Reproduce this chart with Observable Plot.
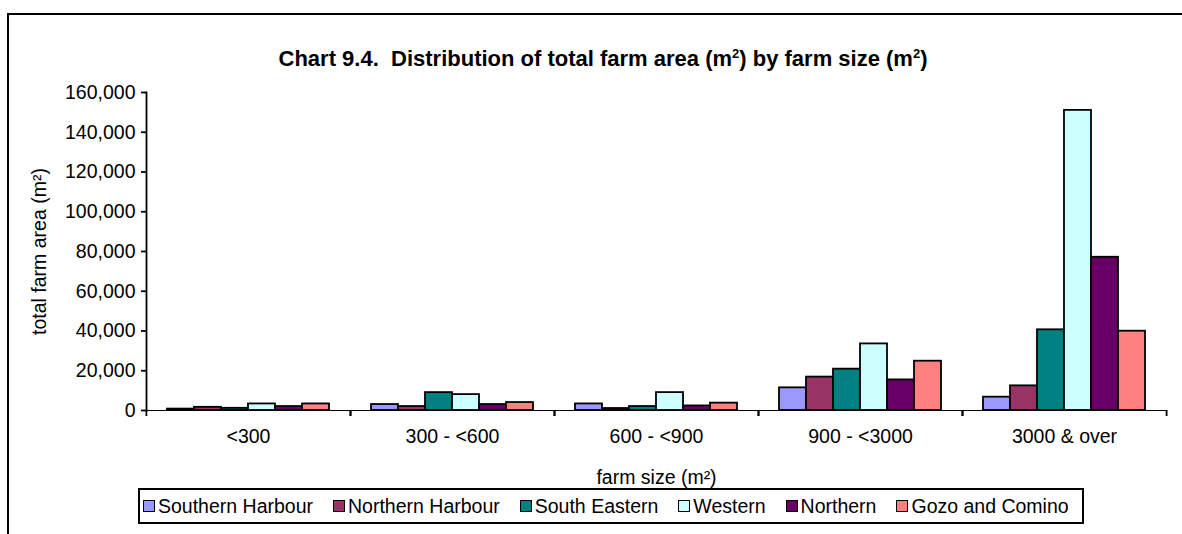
<!DOCTYPE html>
<html><head><meta charset="utf-8">
<script src="https://cdn.jsdelivr.net/npm/d3@7"></script>
<script src="https://cdn.jsdelivr.net/npm/@observablehq/plot@0.6"></script>
<style>
body{margin:0;background:#fff;font-family:"Liberation Sans",Arial,sans-serif;color:#000;}
#page{position:relative;width:1182px;height:534px;overflow:hidden;background:#fff;}
#chart{position:absolute;left:0;top:80px;}
#border{position:absolute;left:7px;top:13px;width:1300px;height:700px;border:2px solid #000;box-sizing:border-box;}
#title{position:absolute;top:46px;left:0;width:1206px;text-align:center;font-weight:bold;font-size:22px;white-space:nowrap;}
#title sup{font-size:13px;line-height:0;}
#legend{position:absolute;left:138px;top:488px;width:946px;height:36px;border:2px solid #000;box-sizing:border-box;background:#fff;display:flex;align-items:center;padding-left:3px;font-size:19.5px;white-space:nowrap;}
.item{display:flex;align-items:center;margin-right:20px;}
.sw{width:10px;height:10px;border:1.5px solid #000;margin-right:3px;}
</style></head>
<body>
<div id="page">
  <div id="chart"></div>
  <div id="title">Chart 9.4.&nbsp; Distribution of total farm area (m<sup>2</sup>) by farm size (m<sup>2</sup>)</div>
  <div id="legend"></div>
  <div id="border"></div>
</div>
<script>
const categories = ["<300", "300 - <600", "600 - <900", "900 - <3000", "3000 & over"];
const series = ["Southern Harbour", "Northern Harbour", "South Eastern", "Western", "Northern", "Gozo and Comino"];
const colors = ["#9999FF", "#993366", "#008080", "#CCFFFF", "#660066", "#FF8080"];
const southernHarbour = [700, 3000, 3300, 11400, 6700];
const northernHarbour = [1600, 2000, 1000, 16800, 12400];
const southEastern = [1100, 9000, 2000, 20800, 40600];
const western = [3300, 8000, 9000, 33500, 151000];
const northern = [2000, 3000, 2300, 15400, 77100];
const gozoAndComino = [3300, 4000, 3700, 24800, 39900];
const yTicks = [0, 20000, 40000, 60000, 80000, 100000, 120000, 140000, 160000];

const seriesValues = [southernHarbour, northernHarbour, southEastern, western, northern, gozoAndComino];
const data = [];
categories.forEach((c, i) => series.forEach((s, j) => data.push({category: c, series: s, value: seriesValues[j][i]})));

const W = 1182, H = 420, mL = 145, mR = 16, mT = 12, mB = 90;
const band = (W - mL - mR) / categories.length;

const chart = Plot.plot({
  width: W, height: H,
  marginLeft: mL, marginRight: mR, marginTop: mT, marginBottom: mB,
  style: {fontFamily: "'Liberation Sans', Arial, sans-serif", fontSize: "19.5px", color: "#000", background: "transparent", overflow: "visible"},
  fx: {domain: categories, padding: 0},
  x: {domain: series, paddingInner: 0, paddingOuter: 0.71, axis: null},
  y: {domain: [0, 160000]},
  color: {domain: series, range: colors},
  marks: [
    Plot.barY(data, {fx: "category", x: "series", y: "value", fill: "series", stroke: "#000", strokeWidth: 1.8}),
    Plot.ruleY([0], {stroke: "#000", strokeWidth: 1}),
    Plot.frame({anchor: "left", facetAnchor: "left", stroke: "#000", strokeWidth: 1.8}),
    Plot.axisY({ticks: yTicks, tickFormat: d3.format(","), tickSize: 5, tickPadding: 6, stroke: "#000", strokeWidth: 1.8,
      label: "total farm area (m²)", labelAnchor: "center", labelArrow: "none", labelOffset: 114}),
    Plot.axisFx({anchor: "bottom", tickSize: 0, tickPadding: 19, label: "farm size (m²)", labelAnchor: "center", labelArrow: "none", labelOffset: 73}),
    Plot.axisFx({anchor: "bottom", tickSize: 6, tickFormat: () => "", label: null, dx: -band / 2, stroke: "#000", strokeWidth: 1.8}),
    Plot.axisFx({anchor: "bottom", tickSize: 6, tickFormat: () => "", label: null, dx: band / 2, stroke: "#000", strokeWidth: 1.8})
  ]
});
document.getElementById("chart").appendChild(chart);

const legend = document.getElementById("legend");
series.forEach((s, j) => {
  const item = document.createElement("div");
  item.className = "item";
  const sw = document.createElement("div");
  sw.className = "sw";
  sw.style.background = colors[j];
  const label = document.createElement("span");
  label.textContent = s;
  item.appendChild(sw);
  item.appendChild(label);
  legend.appendChild(item);
});
</script>
</body></html>
